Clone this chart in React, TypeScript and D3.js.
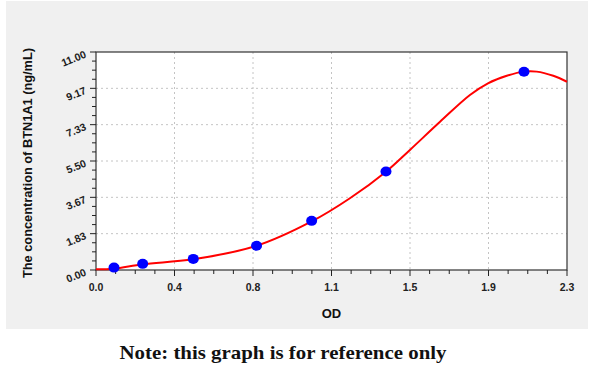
import React from "react";
import * as d3 from "d3";

const xTickValues = [0, 2.3 / 6, (2 * 2.3) / 6, (3 * 2.3) / 6, (4 * 2.3) / 6, (5 * 2.3) / 6, 2.3];
const xTickLabels = ["0.0", "0.4", "0.8", "1.1", "1.5", "1.9", "2.3"];
const yTickValues = [0, 11 / 6, 22 / 6, 33 / 6, 44 / 6, 55 / 6, 11];
const yTickLabels = ["0.00", "1.83", "3.67", "5.50", "7.33", "9.17", "11.00"];

const pointOD = [0.088, 0.228, 0.475, 0.784, 1.053, 1.416, 2.09];
const pointConc = [0.12, 0.31, 0.56, 1.22, 2.48, 4.97, 10.0];

const curveOD = [0, 0.088, 0.228, 0.474, 0.781, 1.053, 1.24, 1.416, 1.533, 1.68, 1.826, 1.914, 2.006, 2.09, 2.152, 2.233, 2.3];
const curveConc = [0.035, 0.066, 0.29, 0.54, 1.21, 2.45, 3.62, 4.96, 6.06, 7.48, 8.83, 9.42, 9.8, 10.01, 10.01, 9.8, 9.5];

export default function App() {
  const W = 600, H = 369;
  const left = 96, right = 567, top = 52, bottom = 270;
  const x = d3.scaleLinear().domain([0, 2.3]).range([left, right]);
  const y = d3.scaleLinear().domain([0, 11]).range([bottom, top]);

  const xMinor: number[] = [];
  for (let i = 0; i < 6; i++) for (let j = 1; j < 4; j++) xMinor.push(xTickValues[i] + ((xTickValues[i + 1] - xTickValues[i]) * j) / 4);
  const yMinor: number[] = [];
  for (let i = 0; i < 6; i++) for (let j = 1; j < 4; j++) yMinor.push(yTickValues[i] + ((yTickValues[i + 1] - yTickValues[i]) * j) / 4);

  const line = d3
    .line<number>()
    .x((d, i) => x(curveOD[i]))
    .y((d) => y(d))
    .curve(d3.curveCatmullRom.alpha(0.5));

  const font = "'Liberation Sans', Arial, sans-serif";

  return (
    <div>
      <style>{`body{margin:0}`}</style>
      <svg width={W} height={H} style={{ display: "block" }}>
        <rect x={0} y={0} width={W} height={H} fill="#ffffff" />
        <rect x={6} y={1} width={582} height={328} fill="#f0f0f0" />
        <rect x={left} y={top} width={right - left} height={bottom - top} fill="#ffffff" />
        {xTickValues.slice(1, -1).map((v, i) => (
          <line key={"gx" + i} x1={x(v)} x2={x(v)} y1={top} y2={bottom} stroke="#c4c4c4" strokeWidth={1} strokeDasharray="2,3" />
        ))}
        {yTickValues.slice(1, -1).map((v, i) => (
          <line key={"gy" + i} x1={left} x2={right} y1={y(v)} y2={y(v)} stroke="#c4c4c4" strokeWidth={1} strokeDasharray="2,3" />
        ))}
        <rect x={left} y={top} width={right - left} height={bottom - top} fill="none" stroke="#333333" strokeWidth={1.2} />
        {xTickValues.map((v, i) => (
          <line key={"xt" + i} x1={x(v)} x2={x(v)} y1={bottom} y2={bottom + 6} stroke="#222" strokeWidth={1} />
        ))}
        {xMinor.map((v, i) => (
          <line key={"xm" + i} x1={x(v)} x2={x(v)} y1={bottom} y2={bottom + 4} stroke="#222" strokeWidth={1} />
        ))}
        {yTickValues.map((v, i) => (
          <line key={"yt" + i} x1={left - 6} x2={left} y1={y(v)} y2={y(v)} stroke="#222" strokeWidth={1} />
        ))}
        {yMinor.map((v, i) => (
          <line key={"ym" + i} x1={left - 4} x2={left} y1={y(v)} y2={y(v)} stroke="#222" strokeWidth={1} />
        ))}
        {xTickValues.map((v, i) => (
          <text key={"xl" + i} x={x(v)} y={bottom + 21} textAnchor="middle" fontFamily={font} fontWeight="bold" fontSize={10.5} fill="#222">
            {xTickLabels[i]}
          </text>
        ))}
        {yTickValues.map((v, i) => (
          <text
            key={"yl" + i}
            transform={`translate(${left - 9},${y(v) + 5}) rotate(-22)`}
            textAnchor="end"
            fontFamily={font}
            fontWeight="bold"
            fontSize={10.5}
            fill="#222"
          >
            {yTickLabels[i]}
          </text>
        ))}
        <path d={line(curveConc) || ""} fill="none" stroke="#ff0000" strokeWidth={2} />
        {pointOD.map((v, i) => (
          <ellipse key={"p" + i} cx={x(v)} cy={y(pointConc[i])} rx={5.5} ry={5} fill="#0000ff" />
        ))}
        <text x={(left + right) / 2} y={318} textAnchor="middle" fontFamily={font} fontWeight="bold" fontSize={13} fill="#111">
          OD
        </text>
        <text
          transform={`translate(32,${(48 + 278) / 2}) rotate(-90)`}
          textAnchor="middle"
          fontFamily={font}
          fontWeight="bold"
          fontSize={12.5}
          textLength={230}
          lengthAdjust="spacingAndGlyphs"
          fill="#111"
        >
          The concentration  of BTN1A1 (ng/mL)
        </text>
        <text
          x={283}
          y={359}
          textAnchor="middle"
          fontFamily="'Liberation Serif', 'Times New Roman', serif"
          fontWeight="bold"
          fontSize={19.5}
          textLength={327}
          lengthAdjust="spacingAndGlyphs"
          fill="#111"
        >
          Note: this graph is for reference only
        </text>
      </svg>
    </div>
  );
}
